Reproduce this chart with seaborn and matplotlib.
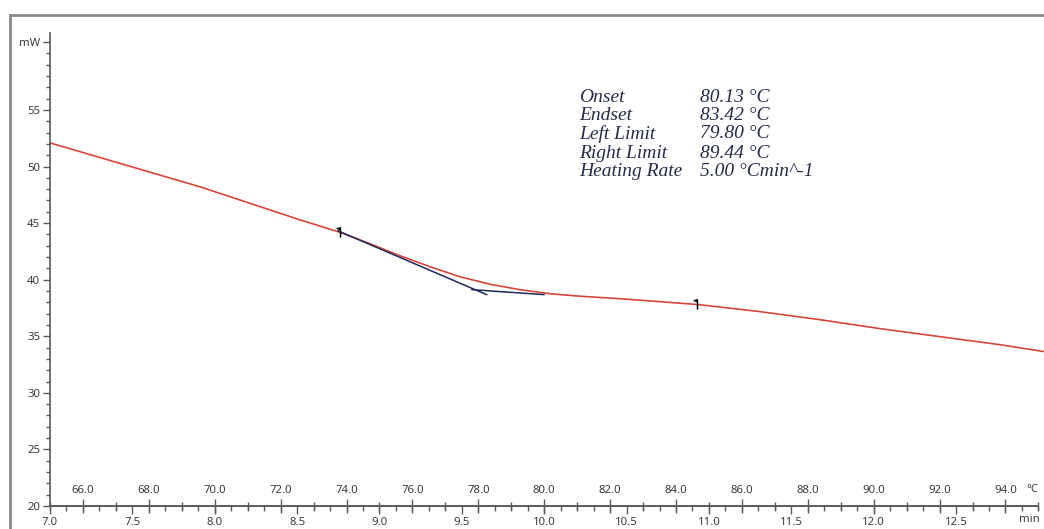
import numpy as np
import pandas as pd
import matplotlib
matplotlib.use("Agg")
import matplotlib.pyplot as plt
import seaborn as sns
from matplotlib.ticker import MultipleLocator, FixedLocator
from matplotlib.patches import Rectangle

# ---------------- data ----------------
time_min = [7.00, 7.455, 7.91, 8.214, 8.517, 8.76, 8.942, 9.124, 9.306, 9.488,
            9.67, 9.852, 10.034, 10.216, 10.459, 10.701, 10.944, 11.308, 11.672,
            12.036, 12.40, 12.765, 13.032]
heat_flow_mw = [52.09, 50.15, 48.21, 46.75, 45.29, 44.19, 43.18, 42.12, 41.15, 40.26,
                39.60, 39.12, 38.76, 38.54, 38.32, 38.06, 37.79, 37.18, 36.47,
                35.68, 34.97, 34.26, 33.65]

tangent1_time = [8.748, 9.652]
tangent1_mw = [44.32, 38.67]
tangent2_time = [9.56, 10.00]
tangent2_mw = [39.12, 38.68]

limit_time = [8.76, 10.93]
limit_mw = [44.25, 37.85]

result_names = ["Onset", "Endset", "Left Limit", "Right Limit", "Heating Rate"]
result_values = ["80.13 °C", "83.42 °C", "79.80 °C", "89.44 °C", "5.00 °Cmin^-1"]

y_major = [20, 25, 30, 35, 40, 45, 50, 55]
time_ticks = [7.0, 7.5, 8.0, 8.5, 9.0, 9.5, 10.0, 10.5, 11.0, 11.5, 12.0, 12.5]
temp_ticks = [66.0, 68.0, 70.0, 72.0, 74.0, 76.0, 78.0, 80.0, 82.0, 84.0, 86.0,
              88.0, 90.0, 92.0, 94.0]
heating_rate = 5.0  # °C / min, temperature = 30 + 5 * t

df = pd.DataFrame({"time": time_min, "mw": heat_flow_mw})

# ---------------- figure ----------------
sns.set_theme(style="white")
plt.rcParams["font.family"] = ["Noto Sans", "DejaVu Sans"]

W, H = 1044, 529
fig = plt.figure(figsize=(W / 100, H / 100), dpi=100)
fig.patch.set_facecolor("white")

def fx(px):
    return px / W

def fy(py):
    return 1 - py / H

ax = fig.add_axes([fx(50), fy(506), fx(1038.4) - fx(50), fy(33) - fy(506)])
ax.set_facecolor("white")

axis_col = "#5a5a5a"
label_col = "#3a3a3a"
tick_fs = 8.2

sns.lineplot(data=df, x="time", y="mw", ax=ax, color="#d8453b", lw=1.2,
             estimator=None, sort=False, clip_on=False)
ax.plot(tangent1_time, tangent1_mw, color="#1e2a5c", lw=1.1)
ax.plot(tangent2_time, tangent2_mw, color="#1e2a5c", lw=1.1)

flag = [(0, -1), (0, 1), (-0.7, 0.8), (0, 0.55), (0, -1)]
ax.plot(limit_time, limit_mw, ls="none", marker=flag, ms=7, color="black",
        mec="black", mfc="black", mew=0.9)

ax.set_xlim(7.0, 13.0)
ax.set_ylim(20, 61.8)
ax.set_xlabel("")
ax.set_ylabel("")

for s in ["top", "right"]:
    ax.spines[s].set_visible(False)
for s in ["left", "bottom"]:
    ax.spines[s].set_color(axis_col)
    ax.spines[s].set_linewidth(1.2)

# y axis
ax.yaxis.set_major_locator(FixedLocator(y_major + [61]))
ax.set_yticklabels([str(v) for v in y_major] + ["mW"])
ax.yaxis.set_minor_locator(MultipleLocator(1))
ax.tick_params(axis="y", which="major", left=True, direction="out", length=5, width=1,
               color=axis_col, labelsize=tick_fs, labelcolor=label_col, pad=2)
ax.tick_params(axis="y", which="minor", left=True, direction="out", length=3, width=1,
               color=axis_col)

# time axis (bottom)
ax.xaxis.set_major_locator(FixedLocator(time_ticks))
ax.set_xticklabels([f"{v:.1f}" for v in time_ticks])
ax.xaxis.set_minor_locator(MultipleLocator(0.1))
ax.tick_params(axis="x", which="major", bottom=True, direction="out", length=6, width=1,
               color=axis_col, labelsize=tick_fs, labelcolor=label_col, pad=2)
ax.tick_params(axis="x", which="minor", bottom=True, direction="out", length=3.5, width=1,
               color=axis_col)

# temperature axis drawn on the same baseline, labels above
sec = ax.secondary_xaxis(0.0, functions=(lambda t: 30 + heating_rate * t,
                                         lambda T: (T - 30) / heating_rate))
sec.set_alignment("top")
sec.xaxis.set_major_locator(FixedLocator(temp_ticks))
sec.set_xticklabels([f"{v:.1f}" for v in temp_ticks])
sec.xaxis.set_minor_locator(MultipleLocator(1.0))
sec.tick_params(axis="x", which="major", top=True, direction="inout", length=10, width=1,
                color=axis_col, labelsize=tick_fs, labelcolor=label_col, pad=2)
sec.tick_params(axis="x", which="minor", top=True, direction="inout", length=6, width=1,
                color=axis_col)
sec.spines["top"].set_color(axis_col)
sec.spines["top"].set_linewidth(1.2)

# unit labels at axis end
fig.text(fx(1032), fy(489), "°C", fontsize=tick_fs, color=label_col, ha="center", va="center")
fig.text(fx(1029), fy(519), "min", fontsize=tick_fs, color=label_col, ha="center", va="center")

# result table
line_y = [97, 116, 134, 153, 171]
for name, val, yy in zip(result_names, result_values, line_y):
    fig.text(fx(579), fy(yy), name, family="Liberation Serif", style="italic",
             fontsize=14, color="#262c48", ha="left", va="center")
    fig.text(fx(700), fy(yy), val, family="Liberation Serif", style="italic",
             fontsize=14, color="#262c48", ha="left", va="center")

# outer frame
fig.patches.append(Rectangle((fx(10), fy(H + 5)), fx(W + 5) - fx(10), fy(15) - fy(H + 5),
                             transform=fig.transFigure, fill=False,
                             edgecolor="#8a8a8a", lw=2.0))

fig.savefig("out.png", dpi=100, facecolor="white")
